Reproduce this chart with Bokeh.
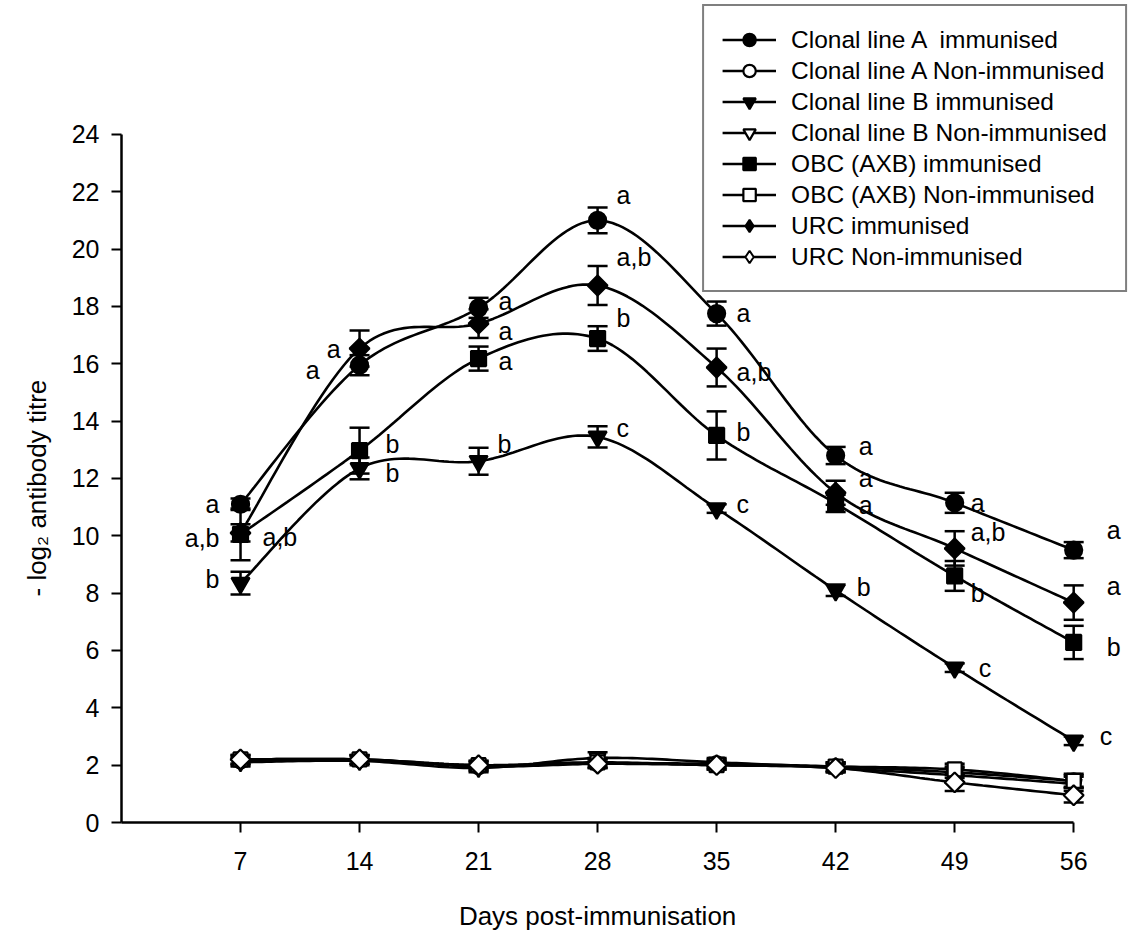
import numpy as np
from bokeh.plotting import figure
from bokeh.models import (ColumnDataSource, Whisker, TeeHead, Legend, LegendItem,
                          FixedTicker, Range1d, Title)
from bokeh.embed import file_html
from bokeh.resources import INLINE
from bokeh.core.properties import value

# ---------------- data ----------------
days = [7, 14, 21, 28, 35, 42, 49, 56]
y_ticks = [0, 2, 4, 6, 8, 10, 12, 14, 16, 18, 20, 22, 24]

series_names = [
    "Clonal line A  immunised",
    "Clonal line A Non-immunised",
    "Clonal line B immunised",
    "Clonal line B Non-immunised",
    "OBC (AXB) immunised",
    "OBC (AXB) Non-immunised",
    "URC immunised",
    "URC Non-immunised",
]

a_imm = [11.1, 15.95, 17.95, 21.0, 17.75, 12.8, 11.15, 9.5]
a_imm_err = [0.2, 0.35, 0.35, 0.45, 0.42, 0.3, 0.35, 0.28]
a_non = [2.15, 2.2, 1.95, 2.05, 2.05, 1.95, 1.75, 1.45]
a_non_err = [0.15, 0.15, 0.15, 0.15, 0.15, 0.15, 0.2, 0.2]

b_imm = [8.35, 12.35, 12.6, 13.45, 10.95, 8.1, 5.4, 2.85]
b_imm_err = [0.4, 0.38, 0.47, 0.37, 0.15, 0.2, 0.15, 0.15]
b_non = [2.1, 2.15, 1.9, 2.25, 2.1, 1.9, 1.65, 1.35]
b_non_err = [0.15, 0.15, 0.15, 0.2, 0.15, 0.15, 0.25, 0.25]

obc_imm = [10.05, 12.97, 16.18, 16.88, 13.5, 11.13, 8.6, 6.28]
obc_imm_err = [0.9, 0.8, 0.42, 0.43, 0.84, 0.3, 0.52, 0.58]
obc_non = [2.2, 2.2, 2.0, 2.1, 2.0, 1.95, 1.85, 1.45]
obc_non_err = [0.15, 0.15, 0.15, 0.15, 0.15, 0.15, 0.2, 0.25]

urc_imm = [10.1, 16.53, 17.4, 18.73, 15.87, 11.5, 9.56, 7.67]
urc_imm_err = [0.3, 0.63, 0.5, 0.68, 0.66, 0.42, 0.6, 0.6]
urc_non = [2.2, 2.2, 2.0, 2.05, 2.0, 1.9, 1.4, 0.95]
urc_non_err = [0.15, 0.15, 0.15, 0.15, 0.15, 0.15, 0.3, 0.25]

# significance letters for the immunised groups
a_letters = ["a", "a", "a", "a", "a", "a", "a", "a"]
b_letters = ["b", "b", "b", "c", "c", "b", "c", "c"]
obc_letters = ["a,b", "b", "a", "b", "b", "a", "b", "b"]
urc_letters = ["a,b", "a", "a", "a,b", "a,b", "a", "a,b", "a"]

x_title = "Days post-immunisation"
y_title = "- log\u2082 antibody titre"

# ---------------- label placement (screen offsets, px) ----------------
a_lab_pos = [("right", -21, 0), ("right", -40, 5), ("left", 20, -7), ("left", 19, -25),
             ("left", 20, -1), ("left", 23, -10), ("left", 16, 0), ("left", 33, -20)]
b_lab_pos = [("right", -21, -4), ("left", 26, 5), ("left", 19, -17), ("left", 19, -9),
             ("left", 20, -5), ("left", 21, -3), ("left", 24, 0), ("left", 26, -5)]
obc_lab_pos = [("right", -21, 4), ("left", 26, -7), ("left", 20, 2), ("left", 19, -21),
               ("left", 20, -3), ("left", 23, 2), ("left", 16, 17), ("left", 33, 5)]
urc_lab_pos = [("left", 22, 4), ("right", -19, 0), ("left", 20, 7), ("left", 19, -28),
               ("left", 20, 5), ("left", 23, -15), ("left", 16, -16), ("left", 33, -17)]

FONT = "Liberation Sans"


def smooth(xs, ys, n=24):
    """Excel-like smoothed curve through points (cubic Bezier, Catmull-Rom controls)."""
    xs = np.asarray(xs, float)
    ys = np.asarray(ys, float)
    pts = np.column_stack([xs, ys])
    out = []
    m = len(pts)
    for i in range(m - 1):
        p0 = pts[i - 1] if i > 0 else pts[i]
        p1 = pts[i]
        p2 = pts[i + 1]
        p3 = pts[i + 2] if i + 2 < m else pts[i + 1]
        c1 = p1 + (p2 - p0) / 6.0
        c2 = p2 - (p3 - p1) / 6.0
        t = np.linspace(0, 1, n, endpoint=(i == m - 2))[:, None]
        seg = ((1 - t) ** 3) * p1 + 3 * ((1 - t) ** 2) * t * c1 + 3 * (1 - t) * t * t * c2 + (t ** 3) * p2
        out.append(seg)
    arr = np.vstack(out)
    return arr[:, 0], arr[:, 1]


p = figure(width=1131, height=933, x_range=Range1d(0, 59.4), y_range=Range1d(0, 28.67),
           output_backend="svg", toolbar_location=None,
           min_border_left=121, min_border_right=0, min_border_top=0, min_border_bottom=111)
p.xgrid.visible = False
p.ygrid.visible = False
p.outline_line_color = None
p.background_fill_color = "white"
p.border_fill_color = "white"

for ax in (p.xaxis[0], p.yaxis[0]):
    ax.axis_line_width = 2.5
    ax.axis_line_color = "black"
    ax.major_tick_line_width = 2
    ax.major_tick_line_color = "black"
    ax.major_tick_out = 10
    ax.major_tick_in = 0
    ax.minor_tick_line_color = None
    ax.major_label_text_font = FONT
    ax.major_label_text_font_size = "25px"
    ax.major_label_text_color = "black"

p.xaxis[0].ticker = FixedTicker(ticks=days)
p.xaxis[0].bounds = (0, 56)
p.xaxis[0].major_label_standoff = 19
# the axis title is centred on the plotting frame; trailing no-break spaces shift the
# visible words left so they sit centred under the drawn axis (0 .. 56)
p.xaxis[0].axis_label = x_title + "\u00a0" * 8
p.xaxis[0].axis_label_standoff = 28
p.xaxis[0].axis_label_text_font = FONT
p.xaxis[0].axis_label_text_font_size = "26px"
p.xaxis[0].axis_label_text_font_style = "normal"
p.xaxis[0].axis_label_text_color = "black"

p.yaxis[0].ticker = FixedTicker(ticks=y_ticks)
p.yaxis[0].bounds = (0, 24)
p.yaxis[0].major_label_standoff = 12

p.add_layout(Title(text=y_title, align="left", offset=226, standoff=33,
                   text_font=FONT, text_font_size="26px", text_font_style="normal",
                   text_color="black"), "left")

groups = [
    (a_imm, a_imm_err, "circle", "black", 17, 0),
    (a_non, a_non_err, "circle", "white", 15, 0),
    (b_imm, b_imm_err, "inverted_triangle", "black", 18, 0),
    (b_non, b_non_err, "inverted_triangle", "white", 16, 0),
    (obc_imm, obc_imm_err, "square", "black", 15, 0),
    (obc_non, obc_non_err, "square", "white", 14, 0),
    (urc_imm, urc_imm_err, "square", "black", 14, np.pi / 4),
    (urc_non, urc_non_err, "square", "white", 14, np.pi / 4),
]

items = []
for name, (vals, errs, mk, fill, size, ang) in zip(series_names, groups):
    cx, cy = smooth(days, vals)
    lr = p.line(cx, cy, line_color="black", line_width=2.6)
    src = ColumnDataSource(dict(x=days, y=vals,
                                upper=[v + e for v, e in zip(vals, errs)],
                                lower=[v - e for v, e in zip(vals, errs)]))
    w = Whisker(source=src, base="x", upper="upper", lower="lower", dimension="height",
                line_color="black", line_width=2.5,
                upper_head=TeeHead(size=20, line_width=2.5, line_color="black"),
                lower_head=TeeHead(size=20, line_width=2.5, line_color="black"))
    p.add_layout(w)
    sr = p.scatter("x", "y", source=src, marker=mk, size=size, angle=ang,
                   fill_color=fill, line_color="black", line_width=2.2)
    if ang:
        # legend swatch for the rotated-square (diamond) series: zero-size in the plot
        sr = p.scatter("x", "y", source=src, marker="diamond", size=0,
                       fill_color=fill, line_color="black", line_width=2.0)
    items.append(LegendItem(label=name, renderers=[lr, sr]))

# significance letters
for vals, letters, pos in [(a_imm, a_letters, a_lab_pos), (b_imm, b_letters, b_lab_pos),
                           (obc_imm, obc_letters, obc_lab_pos), (urc_imm, urc_letters, urc_lab_pos)]:
    for align in ("left", "right"):
        idx = [i for i, q in enumerate(pos) if q[0] == align]
        if not idx:
            continue
        s = ColumnDataSource(dict(x=[days[i] for i in idx], y=[vals[i] for i in idx],
                                  t=[letters[i] for i in idx],
                                  dx=[pos[i][1] for i in idx], dy=[pos[i][2] for i in idx]))
        p.text("x", "y", text="t", source=s, x_offset="dx", y_offset="dy",
               text_align=align, text_baseline="middle", text_font=value(FONT),
               text_font_size="25px", text_color="black")

legend = Legend(items=items, location="top_right", margin=4,
                border_line_color="black", border_line_width=2,
                background_fill_color="white", background_fill_alpha=1.0,
                padding=18, spacing=0, glyph_width=54, glyph_height=31,
                label_height=31, label_standoff=15,
                label_text_font=FONT, label_text_font_size="24.5px",
                label_text_color="black")
p.add_layout(legend)

open("out.html", "w").write(file_html(p, INLINE))
